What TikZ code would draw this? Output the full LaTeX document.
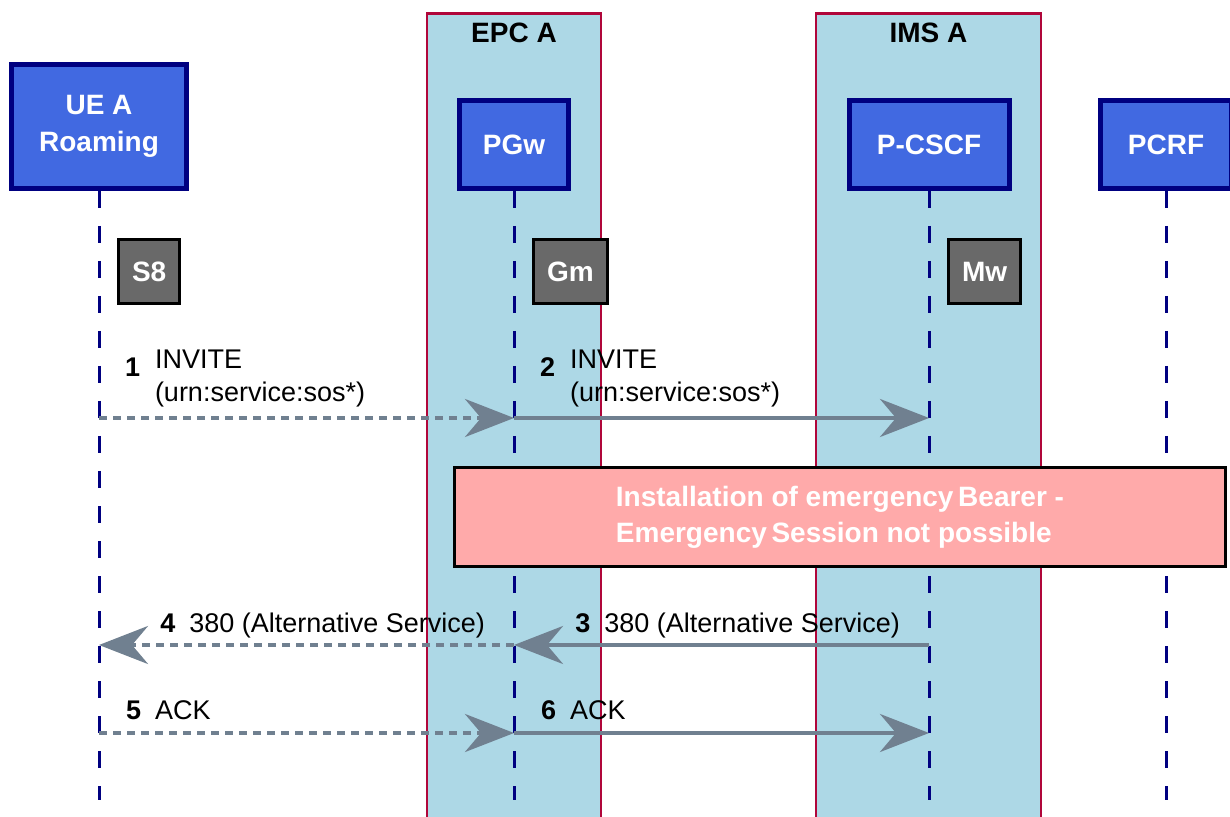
\documentclass[tikz,border=0pt]{standalone}
\usepackage{fontspec}
\setmainfont{Liberation Sans}
\usetikzlibrary{positioning,arrows.meta}
\definecolor{royal}{HTML}{4169E1}
\definecolor{navyline}{HTML}{000080}
\definecolor{regfill}{HTML}{ADD8E6}
\definecolor{regline}{HTML}{B0063A}
\definecolor{ifgray}{HTML}{696969}
\definecolor{slate}{HTML}{708090}
\definecolor{notepink}{HTML}{FFAAAA}
\tikzset{
  >={Stealth[length=24.5pt,width=19pt,inset=8pt]},
  region/.style={draw=regline,fill=regfill,line width=1.4pt,inner sep=0pt},
  reglbl/.style={font=\fontsize{14}{17}\selectfont\bfseries,inner sep=0pt},
  entity/.style={draw=navyline,fill=royal,line width=2.5pt,text=white,
    align=center,font=\fontsize{14}{18.5}\selectfont\bfseries},
  iface/.style={draw=black,fill=ifgray,line width=1.5pt,text=white,
    font=\fontsize{14}{17}\selectfont\bfseries,minimum height=32pt,
    inner xsep=6.75pt},
  lifeline/.style={draw=navyline,line width=1.5pt,dash pattern=on 8.5pt off 9pt},
  msg/.style={->,draw=slate,line width=2pt},
  msgd/.style={msg,dash pattern=on 4pt off 3pt},
  msglbl/.style={font=\fontsize{13.5}{17}\selectfont,inner sep=0pt},
  msgnum/.style={msglbl,font=\fontsize{13.5}{17}\selectfont\bfseries},
  notebox/.style={draw=black,fill=notepink,line width=1.5pt,text=white,
    align=left,font=\fontsize{14}{18}\selectfont\bfseries},
}

\begin{document}
\begin{tikzpicture}[x=0.5pt,y=-0.5pt]
  \useasboundingbox (0,0) rectangle (1230,817);
  % domains
  \node[region,anchor=north,minimum width=87pt,minimum height=414pt] (epc) at (514,12) {};
  \node[region,anchor=north,minimum width=112.5pt,minimum height=414pt] (ims) at (928.5,12) {};
  \node[reglbl,anchor=base] (epclbl) at (514,43) {EPC A};
  \node[reglbl,anchor=base] (imslbl) at (928.5,43) {IMS A};

  % entities
  \node[entity,minimum width=87.5pt,minimum height=62pt] (ue) at (99,126.5) {UE A\\Roaming};
  \node[entity,minimum width=54.5pt,minimum height=44pt] (pgw) at (514,144.5) {PGw};
  \node[entity,minimum width=80pt,minimum height=44pt] (pcscf) at (929,144.5) {P-CSCF};
  \node[entity,minimum width=65.5pt,minimum height=44pt] (pcrf) at (1166,144.5) {PCRF};

  % lifelines
  \foreach \n/\x in {ue/99,pgw/514,pcscf/929,pcrf/1166} {
    \coordinate (\n-if) at (\x,272);
    \coordinate (\n-inv) at (\x,418);
    \coordinate (\n-alt) at (\x,645);
    \coordinate (\n-ack) at (\x,733);
    \coordinate (\n-end) at (\x,800);
    \draw[lifeline] (\n) -- (\n-end);
  }

  % interfaces
  \node[iface,right=9pt of ue-if] (s8) {S8};
  \node[iface,right=9pt of pgw-if] (gm) {Gm};
  \node[iface,right=9pt of pcscf-if] (mw) {Mw};

  % messages
  \draw[msgd] (ue-inv) -- (pgw-inv)
    node[msgnum,pos=0,anchor=base west,xshift=12pt,yshift=20.5pt] (n1) {1}
    node[msglbl,pos=0,anchor=base west,xshift=27pt,yshift=8pt] (t1)
      {\begin{tabular}[b]{@{}l@{}}INVITE\\(urn:service:sos*)\end{tabular}};
  \draw[msg] (pgw-inv) -- (pcscf-inv)
    node[msgnum,pos=0,anchor=base west,xshift=12pt,yshift=20.5pt] (n2) {2}
    node[msglbl,pos=0,anchor=base west,xshift=27pt,yshift=8pt] (t2)
      {\begin{tabular}[b]{@{}l@{}}INVITE\\(urn:service:sos*)\end{tabular}};

  \node[notebox,minimum width=385.5pt,minimum height=49pt] (note) at (840,517)
    {Installation of emergency\,Bearer -\\Emergency\,Session not possible};

  \draw[msg] (pcscf-alt) -- (pgw-alt)
    node[msglbl,pos=0,anchor=base east,xshift=-13.5pt,yshift=6.5pt] (t3)
      {\textbf{3}\hspace{7pt}380 (Alternative Service)};
  \draw[msgd] (pgw-alt) -- (ue-alt)
    node[msglbl,pos=0,anchor=base east,xshift=-13.5pt,yshift=6.5pt] (t4)
      {\textbf{4}\hspace{7pt}380 (Alternative Service)};

  \draw[msgd] (ue-ack) -- (pgw-ack)
    node[msglbl,pos=0,anchor=base west,xshift=12.5pt,yshift=7pt] (t5)
      {\textbf{5}\hspace{7pt}ACK};
  \draw[msg] (pgw-ack) -- (pcscf-ack)
    node[msglbl,pos=0,anchor=base west,xshift=12.5pt,yshift=7pt] (t6)
      {\textbf{6}\hspace{7pt}ACK};
\end{tikzpicture}
\end{document}
